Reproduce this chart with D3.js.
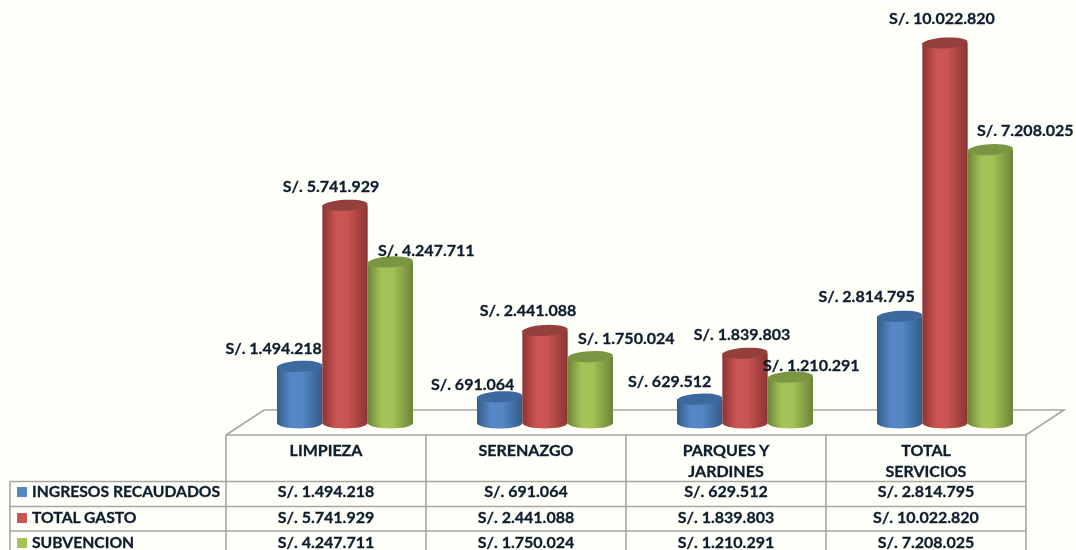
<!DOCTYPE html>
<html><head><meta charset="utf-8">
<script src="https://cdn.jsdelivr.net/npm/d3@7"></script>
<style>
html,body{margin:0;padding:0;background:#fffffa;overflow:hidden}
svg{display:block}
text{font-family:Lato,"Open Sans",sans-serif;font-weight:700;font-size:16px;fill:#0c1c2c;stroke:#0c1c2c;stroke-width:.3px}
text.leg{font-size:15.7px}
</style></head><body>
<svg id="c" width="1076" height="550"></svg>
<script>
const categories = [["LIMPIEZA"],["SERENAZGO"],["PARQUES Y","JARDINES"],["TOTAL","SERVICIOS"]];
const seriesNames = ["INGRESOS RECAUDADOS","TOTAL GASTO","SUBVENCION"];
const ingresos = [1494218,691064,629512,2814795];
const gasto = [5741929,2441088,1839803,10022820];
const subvencion = [4247711,1750024,1210291,7208025];
const seriesValues = [ingresos,gasto,subvencion];
const palette = [
  {edge:"#335c8c",mid:"#5587c4",top:"#3d6b9e"},
  {edge:"#8a3432",mid:"#cb5452",top:"#93403d"},
  {edge:"#6a8536",mid:"#a3c356",top:"#7a9643"}];
// label offsets from the top of each cylinder (layout only)
const labelDx = [[-26,-14,36],[-27,-17,36],[-30,-3,21],[-33,-3,35]];
const labelDy = [[-17,-18,-11],[-12,-20,-18],[-17,-18,-11],[-19,-24,-19]];

const fmt = v => "S/. " + d3.format(",")(v).replace(/,/g,".");
const svg = d3.select("#c");
const defs = svg.append("defs");
palette.forEach((p,i)=>{
  const g = defs.append("linearGradient").attr("id","g"+i);
  [[0,p.edge],[.3,p.mid],[.55,p.mid],[1,p.edge]].forEach(s=>g.append("stop").attr("offset",s[0]).attr("stop-color",s[1]));
});
defs.append("filter").attr("id","soft").append("feGaussianBlur").attr("stdDeviation",0.35);

const tableL=226, tableW=800, legendL=10, floorShift=38, floorBack=410, floorFront=435;
const x = d3.scaleBand().domain(d3.range(categories.length)).range([tableL,tableL+tableW]);
const sx = d3.scaleBand().domain(d3.range(3)).range([0,136]);
const y = d3.scaleLinear().domain([0,d3.max(gasto)]).range([423,43]);
const rows = [481.5,506.5,531];
const rowText = [493,519,544];
const ry = 5.5;

const root = svg.append("g").attr("filter","url(#soft)");
const line = root.append("g").attr("fill","none").attr("stroke","#a6a6a2").attr("stroke-width",1.6);
line.append("path").attr("d",d3.line()([[tableL,floorFront],[tableL+floorShift,floorBack],[tableL+tableW+floorShift,floorBack],[tableL+tableW,floorFront],[tableL,floorFront]]));
d3.range(categories.length+1).forEach(i=>{
  const px = tableL+i*x.bandwidth();
  line.append("line").attr("x1",px).attr("x2",px).attr("y1",floorFront).attr("y2",550);
});
line.append("line").attr("x1",legendL).attr("x2",legendL).attr("y1",rows[0]).attr("y2",550);
rows.forEach(r=>line.append("line").attr("x1",legendL).attr("x2",tableL+tableW).attr("y1",r).attr("y2",r));

categories.forEach((c,ci)=>{
  const x0 = x(ci)+51;
  seriesValues.forEach((vals,si)=>{
    const l = x0+sx(si), w = sx.bandwidth(), r = l+w, t = y(vals[ci]), b = y(0), cx=(l+r)/2;
    const g = root.append("g");
    g.append("path").attr("fill",`url(#g${si})`)
      .attr("d",`M${l},${t}L${l},${b}A${w/2},${ry} 0 0 0 ${r},${b}L${r},${t}Z`);
    g.append("ellipse").attr("cx",cx).attr("cy",t).attr("rx",w/2).attr("ry",ry)
      .attr("fill",palette[si].top).attr("transform",`rotate(-3 ${cx} ${t})`);
  });
});
categories.forEach((c,ci)=>{
  const x0 = x(ci)+51;
  seriesValues.forEach((vals,si)=>{
    const cx = x0+sx(si)+sx.bandwidth()/2;
    root.append("text").attr("text-anchor","middle").attr("dominant-baseline","middle")
      .attr("x",cx+labelDx[ci][si]).attr("y",y(vals[ci])+labelDy[ci][si]+1).text(fmt(vals[ci]));
  });
  const cc = x(ci)+x.bandwidth()/2;
  c.forEach((t,k)=>root.append("text").attr("text-anchor","middle").attr("dominant-baseline","middle")
    .attr("x",cc).attr("y",452+k*20.5).text(t));
  seriesValues.forEach((vals,si)=>root.append("text").attr("text-anchor","middle").attr("dominant-baseline","middle")
    .attr("x",cc).attr("y",rowText[si]).text(fmt(vals[ci])));
});
seriesNames.forEach((n,si)=>{
  root.append("rect").attr("x",17).attr("y",rowText[si]-6).attr("width",10).attr("height",10).attr("fill",palette[si].mid);
  root.append("text").attr("class","leg").attr("x",32).attr("y",rowText[si]).attr("dominant-baseline","middle").text(n);
});
</script>
</body></html>
